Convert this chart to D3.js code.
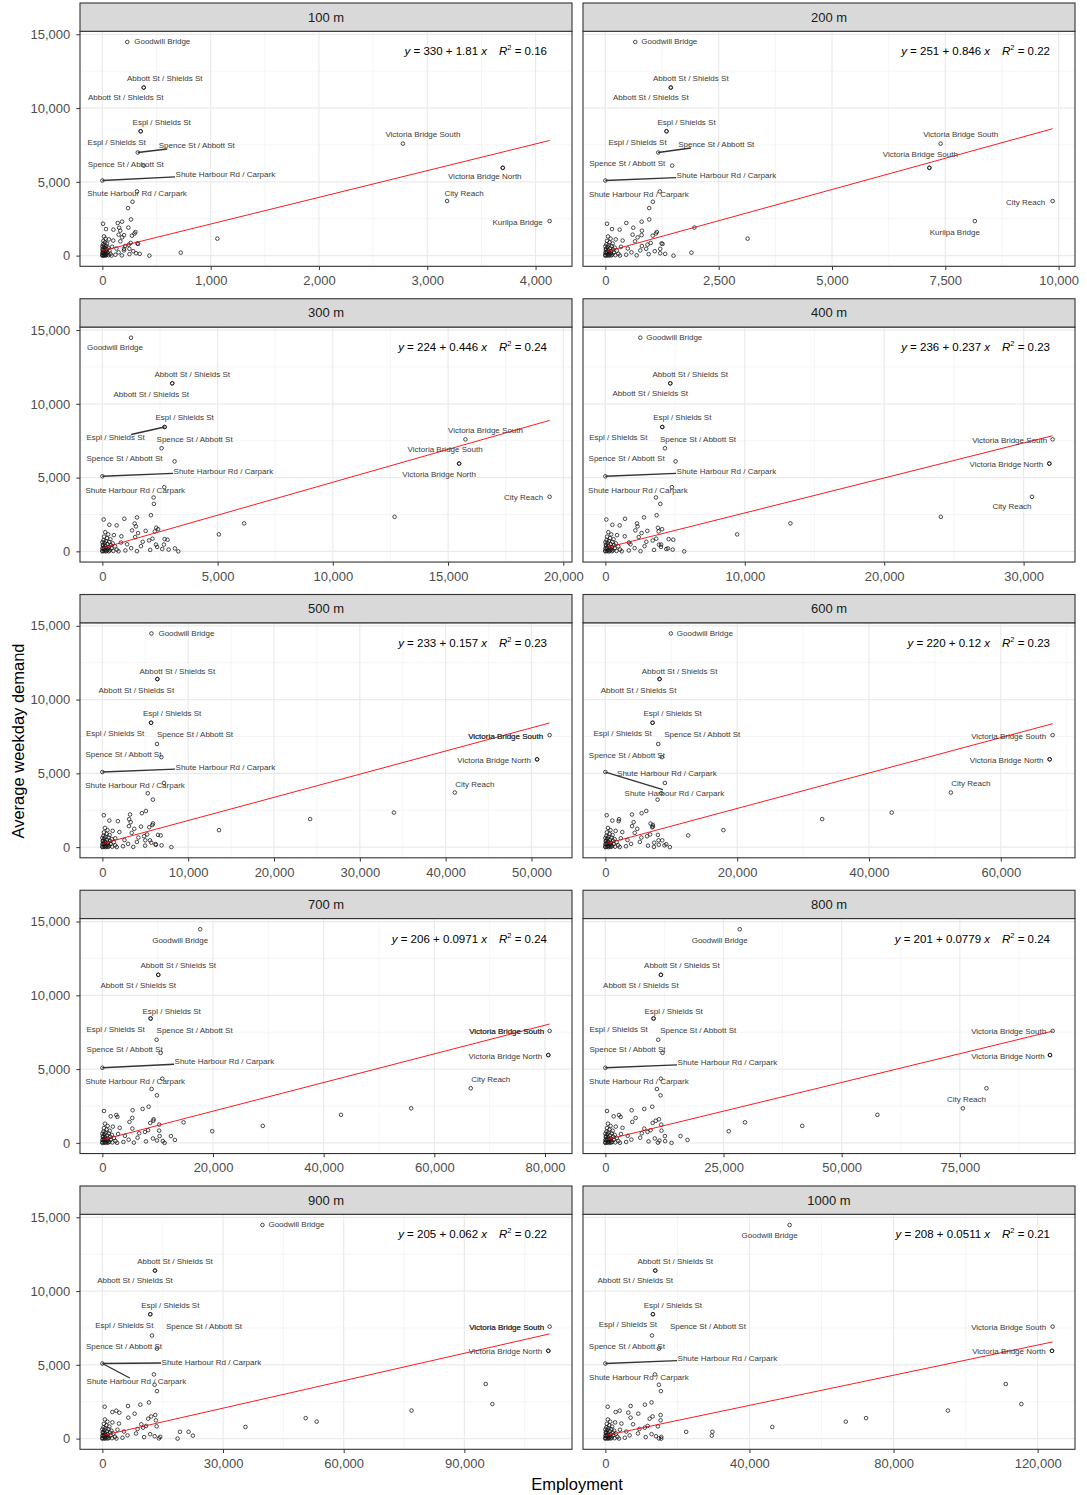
<!DOCTYPE html>
<html>
<head>
<meta charset="utf-8">
<script src="https://cdn.jsdelivr.net/npm/d3@7"></script>
<style>
  body { margin: 0; background: #fff; }
  text { font-family: "Liberation Sans", Arial, sans-serif; }
</style>
</head>
<body>
<svg id="drawing_region"></svg>
<script>
// ---- data ----
const panelNames = ['100 m', '200 m', '300 m', '400 m', '500 m', '600 m', '700 m', '800 m', '900 m', '1000 m'];

const stationNames = ['Goodwill Bridge', 'Abbott St / Shields St', 'Abbott St / Shields St', 'Espl / Shields St',
  'Espl / Shields St', 'Spence St / Abbott St', 'Spence St / Abbott St', 'Shute Harbour Rd / Carpark',
  'Shute Harbour Rd / Carpark', 'Victoria Bridge South', 'Victoria Bridge South', 'Victoria Bridge North',
  'City Reach', 'Kurilpa Bridge', '', '', '', '', '', '', '', '', '', ''];
const stationDemand = [14480, 11390, 11390, 8430, 8430, 6990, 6100, 5090, 4350, 7590, 5950, 5950,
  3700, 2340, 3650, 3220, 1900, 1150, 1390, 790, 460, 0, 200, 460];

// employment within each radius, same order as stationNames
const emp100 = [230, 382, 382, 354, 354, 327, 382, 0, 320, 2775, 3697, 3697, 3183, 4130, 278, 237, 240, 1062, 200, 330, 250, 434, 724, 200];
const emp200 = [660, 1444, 1444, 1349, 1349, 1166, 1474, 0, 1202, 7397, 7148, 7148, 9868, 8152, 1048, 968, 1965, 3138, 800, 1261, 1210, 1503, 1899, 900];
const emp300 = [1242, 3032, 3032, 2700, 2700, 2570, 3133, 0, 2686, 15754, 15480, 15480, 19407, 12678, 2224, 2238, 6151, 5054, 1880, 2830, 2671, 3292, 3148, 2325];
const emp400 = [2506, 4655, 4655, 4082, 4082, 4273, 5037, 0, 4774, 32081, 31843, 31843, 30601, 24061, 3628, 3939, 13272, 9453, 3008, 4869, 3843, 5657, 4488, 4000];
const emp500 = [5719, 6407, 6407, 5676, 5676, 6364, 6880, 0, 7181, 52116, 50654, 50654, 41065, 33970, 5289, 5891, 24209, 13588, 4500, 6794, 5547, 8041, 6192, 5000];
const emp600 = [9941, 8225, 8225, 7165, 7165, 8023, 8578, 0, 9032, 67869, 67415, 67415, 52428, 43446, 8500, 7922, 32900, 17913, 7216, 12565, 8629, 9789, 9234, 8074];
const emp700 = [17684, 10105, 10105, 8722, 8722, 9804, 10526, 0, 10827, 80842, 80601, 80601, 66586, 55819, 8902, 9865, 43128, 28992, 14677, 19850, 12391, 11248, 13113, 10346];
const emp800 = [28425, 11750, 11750, 10202, 10202, 11187, 12102, 0, 11750, 94634, 94071, 94071, 80633, 75637, 10906, 11680, 57554, 41653, 29551, 26103, 15901, 14002, 17379, 12594];
const emp900 = [39798, 13073, 13073, 11915, 11915, 12328, 13569, 0, 12825, 111203, 110872, 110872, 95316, 96971, 12990, 13569, 76866, 53284, 50554, 35578, 21430, 18699, 22505, 19279];
const emp1000 = [51140, 13847, 13847, 13200, 13200, 12923, 14862, 0, 13754, 124157, 123973, 123973, 111141, 115480, 14862, 15416, 95079, 66740, 72371, 46340, 29724, 15508, 29540, 22431];

// the unlabelled stops packed near the origin
const clusterDemand = [2450, 2300, 2210, 2160, 1890, 1800, 1760, 1690, 1600, 1500,
  1420, 1350, 1240, 1100, 970, 860, 830, 740, 600, 480,
  350, 220, 160, 100, 15, 60, 1020, 650, 300, 120,
  1300, 1150, 1000, 900, 820, 760, 700, 640, 580, 540,
  500, 450, 420, 390, 340, 300, 270, 240, 210, 180,
  150, 120, 90, 70, 50, 30, 20, 10, 5, 0,
  0, 40, 200, 380, 620];
const clus100 = [264, 182, 142, 6, 155, 34, 102, 165, 305, 297, 150, 273, 182, 60, 166, 262, 323, 243, 90, 130,
  200, 150, 311, 250, 180, 120, 100, 210, 285, 345,
  15, 30, 9, 24, 42, 6, 18, 36, 12, 54, 27, 3, 45, 15, 66, 33, 9, 21, 48, 6,
  30, 75, 15, 39, 24, 57, 9, 33, 84, 18, 0, 0, 0, 3, 0];
const clus200 = [968, 800, 462, 37, 616, 147, 315, 806, 1136, 1115, 601, 1045, 713, 230, 655, 1000, 1240, 930, 345, 495,
  770, 575, 1210, 955, 690, 460, 380, 805, 1090, 1320,
  58, 115, 35, 92, 161, 23, 69, 138, 46, 207, 104, 12, 173, 58, 253, 127, 35, 81, 184, 23,
  115, 288, 58, 150, 92, 219, 35, 127, 322, 69, 0, 0, 0, 12, 0];
const clus300 = [2108, 1502, 953, 58, 1400, 303, 621, 1458, 2339, 2420, 1290, 2275, 1550, 500, 1425, 2175, 2700, 2025, 809, 1075,
  1675, 1250, 2600, 2075, 1500, 1000, 825, 1750, 2375, 2875,
  125, 250, 75, 200, 350, 50, 150, 300, 100, 450, 225, 25, 375, 125, 550, 275, 75, 175, 400, 50,
  250, 625, 125, 325, 200, 475, 75, 275, 700, 150, 0, 0, 0, 25, 0];
const clus400 = [3676, 2769, 1408, 72, 2268, 501, 1026, 2310, 3771, 4070, 2150, 3820, 2600, 840, 2390, 3650, 4540, 3400, 1695, 1800,
  2810, 2100, 4370, 3490, 2520, 1680, 1390, 2940, 3990, 4830,
  210, 420, 126, 336, 588, 84, 252, 504, 168, 756, 378, 42, 630, 210, 924, 462, 126, 294, 672, 84,
  420, 1050, 210, 546, 336, 798, 126, 462, 1176, 252, 0, 0, 0, 42, 0];
const clus500 = [5074, 4600, 3225, 172, 3120, 817, 1806, 3300, 5900, 5820, 3100, 5460, 3720, 1200, 3420, 5220, 6480, 4860, 1505, 2580,
  4020, 3000, 6240, 4980, 3600, 2400, 1980, 4200, 5700, 6900,
  300, 600, 180, 480, 840, 120, 360, 720, 240, 1080, 540, 60, 900, 300, 1320, 660, 180, 420, 960, 120,
  600, 1500, 300, 780, 480, 1140, 180, 660, 1680, 360, 0, 0, 0, 60, 0];
const clus600 = [6207, 5500, 4037, 202, 2069, 1060, 2018, 4290, 6863, 7216, 4050, 7100, 4840, 1560, 4450, 6790, 7973, 6320, 2340, 3350,
  5230, 3900, 8110, 6470, 7367, 3120, 2570, 5460, 7410, 8970,
  390, 780, 234, 624, 1092, 156, 468, 936, 312, 1404, 702, 78, 1170, 390, 1716, 858, 234, 546, 1248, 156,
  780, 1950, 390, 1014, 624, 1482, 234, 858, 2184, 468, 0, 0, 0, 78, 0];
const clus700 = [8361, 7278, 5474, 301, 2526, 1504, 2707, 5414, 9263, 9210, 4900, 8650, 10286, 1900, 5415, 8260, 10260, 7700, 2850, 4085,
  6365, 4750, 9880, 7885, 5700, 3800, 3135, 6650, 9143, 10925,
  475, 950, 285, 760, 1330, 190, 570, 1140, 380, 1710, 855, 95, 1425, 475, 2090, 1045, 285, 665, 1520, 190,
  950, 2375, 475, 1235, 760, 1805, 285, 1045, 2660, 570, 0, 0, 0, 95, 0];
const clus800 = [9921, 8232, 5558, 352, 2885, 1759, 3237, 6403, 11328, 10670, 5700, 10000, 11820, 2200, 8232, 9570, 11880, 8910, 3300, 4730,
  7370, 5500, 11440, 9130, 11117, 4400, 3630, 7700, 10450, 12650,
  550, 1100, 330, 880, 1540, 220, 660, 1320, 440, 1980, 990, 110, 1650, 550, 2420, 1210, 330, 770, 1760, 220,
  1100, 2750, 550, 1430, 880, 2090, 330, 1210, 3080, 660, 0, 0, 0, 110, 0];
const clus900 = [11584, 9432, 6371, 579, 3475, 2482, 4220, 8026, 13155, 12120, 6450, 11375, 13321, 2500, 9681, 10875, 13500, 10125, 3750, 5375,
  8375, 6250, 13000, 10375, 14066, 5000, 4125, 8750, 11875, 14375,
  625, 1250, 375, 1000, 1750, 250, 750, 1500, 500, 2250, 1125, 125, 1875, 625, 2750, 1375, 375, 875, 2000, 250,
  1250, 3125, 625, 1625, 1000, 2375, 375, 1375, 3500, 750, 0, 0, 0, 125, 0];
const clus1000 = [12831, 10985, 7016, 646, 3969, 2862, 6369, 9139, 15323, 13100, 7000, 12285, 15323, 2700, 7700, 11745, 14580, 10935, 4050, 5800,
  9045, 6750, 14040, 11200, 14862, 5400, 4455, 9450, 12825, 15525,
  675, 1350, 405, 1080, 1890, 270, 810, 1620, 540, 2430, 1215, 135, 2025, 675, 2970, 1485, 405, 945, 2160, 270,
  1350, 3375, 675, 1755, 1080, 2565, 405, 1485, 3780, 810, 0, 0, 0, 135, 0];

// fitted lines, as printed in each panel
const intercepts = [330, 251, 224, 236, 233, 220, 206, 201, 205, 208];
const slopes = [1.81, 0.846, 0.446, 0.237, 0.157, 0.12, 0.0971, 0.0779, 0.062, 0.0511];
const rSquared = [0.16, 0.22, 0.24, 0.23, 0.23, 0.23, 0.24, 0.24, 0.22, 0.21];

const xTickValues = [
  [0, 1000, 2000, 3000, 4000],
  [0, 2500, 5000, 7500, 10000],
  [0, 5000, 10000, 15000, 20000],
  [0, 10000, 20000, 30000],
  [0, 10000, 20000, 30000, 40000, 50000],
  [0, 20000, 40000, 60000],
  [0, 20000, 40000, 60000, 80000],
  [0, 25000, 50000, 75000],
  [0, 30000, 60000, 90000],
  [0, 40000, 80000, 120000]
];
const yTickValues = [0, 5000, 10000, 15000];

// ---- layout ----
const stationEmp = [emp100, emp200, emp300, emp400, emp500, emp600, emp700, emp800, emp900, emp1000];
const clusterEmp = [clus100, clus200, clus300, clus400, clus500, clus600, clus700, clus800, clus900, clus1000];

// repelled label placement: [station, dx, dy (px from point), draw segment]
const labelLayout = [
  [[0,35,0],[1,21,-9],[2,-18,10],[3,21,-9],[4,-24,11],[5,59,-7,1],[6,-18,-1],[7,123,-6,1],[8,0,2],[9,20,-9],[11,-18,9],[12,17,-8],[13,-32,1]],
  [[0,34,0],[1,20,-9],[2,-20,10],[3,20,-9],[4,-29,11],[5,58,-8,1],[6,-45,-2],[7,121,-5,1],[8,-21,3],[9,20,-9],[10,-9,-13],[12,-27,1],[13,-20,11]],
  [[0,-16,10],[1,20,-9],[2,-21,11],[3,20,-9],[4,-49,11,1],[5,33,-9],[6,-50,-3],[7,121,-5,1],[8,-29,3],[9,20,-9],[10,-14,-14],[11,-20,11],[12,-26,1]],
  [[0,34,0],[1,20,-9],[2,-20,10],[3,20,-9],[4,-44,11],[5,33,-9],[6,-49,-3],[7,121,-5,1],[8,-34,3],[9,-43,1],[11,-43,1],[12,-20,10]],
  [[0,35,0],[1,20,-8],[2,-21,11],[3,21,-9],[4,-36,11],[5,38,-9],[6,-38,-3],[7,123,-5,1],[8,-29,3],[9,-44,1],[9,-44,1],[11,-43,1],[12,20,-8]],
  [[0,34,0],[1,20,-8],[2,-21,11],[3,20,-9],[4,-30,11],[5,44,-9],[6,-35,-2],[7,69,21,1],[8,2,-9],[9,-44,1],[11,-43,1],[12,20,-9]],
  [[0,-20,11],[1,20,-9],[2,-20,11],[3,21,-7],[4,-35,11],[5,38,-9],[6,-36,-3],[7,122,-6,1],[8,-27,3],[9,-43,1],[9,-43,1],[11,-43,1],[12,20,-9]],
  [[0,-20,11],[1,21,-9],[2,-20,11],[3,20,-7],[4,-35,11],[5,40,-9],[6,-35,-3],[7,122,-5,1],[8,-22,3],[9,-44,1],[11,-42,1],[12,-20,11]],
  [[0,34,0],[1,20,-9],[2,-20,10],[3,20,-9],[4,-26,11],[5,52,-9],[6,-33,-2],[7,109,-1,1],[7,34,18,1],[9,-43,1],[9,-43,1],[11,-43,1]],
  [[0,-20,11],[1,20,-9],[2,-20,10],[3,20,-9],[4,-25,10],[5,56,-9],[6,-32,-2],[7,122,-5,1],[8,-16,3],[9,-44,1],[11,-43,1]]
];

const width = 1087, height = 1495;
const colLeft = [80, 583], panelW = 492;
const stripH = 28.3, plotH = 235, rowStep = 295.75, firstTop = 3;

const svg = d3.select('#drawing_region')
  .attr('width', width)
  .attr('height', height);

// ggplot style 5% expansion
function expand(ext) {
  const pad = (ext[1] - ext[0]) * 0.05;
  return [ext[0] - pad, ext[1] + pad];
}

const yDomain = expand(d3.extent(stationDemand.concat(clusterDemand)));
const fmt = d3.format(',');

panelNames.forEach((name, i) => {
  const col = i % 2, row = Math.floor(i / 2);
  const x0 = colLeft[col], x1 = x0 + panelW;
  const top = firstTop + row * rowStep;
  const pTop = top + stripH, pBot = pTop + plotH;

  const emp = stationEmp[i], cemp = clusterEmp[i];
  const pts = stationDemand.map((d, k) => ({ x: emp[k], y: d }))
    .concat(clusterDemand.map((d, k) => ({ x: cemp[k], y: d })));

  const xs = d3.scaleLinear().domain(expand(d3.extent(pts, d => d.x))).range([x0, x1]);
  const ys = d3.scaleLinear().domain(yDomain).range([pBot, pTop]);

  const g = svg.append('g');

  // grid
  const xt = xTickValues[i];
  const step = xt[1] - xt[0];
  const xMinor = [xt[0] - step / 2].concat(xt.map(v => v + step / 2))
    .filter(v => v > xs.domain()[0] && v < xs.domain()[1]);
  const yMinor = [2500, 7500, 12500];

  g.selectAll('.xminor').data(xMinor).join('line')
    .attr('x1', d => xs(d)).attr('x2', d => xs(d)).attr('y1', pTop).attr('y2', pBot)
    .attr('stroke', '#f0f0f0').attr('stroke-width', 0.7);
  g.selectAll('.yminor').data(yMinor).join('line')
    .attr('y1', d => ys(d)).attr('y2', d => ys(d)).attr('x1', x0).attr('x2', x1)
    .attr('stroke', '#f0f0f0').attr('stroke-width', 0.7);
  g.selectAll('.xmajor').data(xt).join('line')
    .attr('x1', d => xs(d)).attr('x2', d => xs(d)).attr('y1', pTop).attr('y2', pBot)
    .attr('stroke', '#ebebeb').attr('stroke-width', 1.2);
  g.selectAll('.ymajor').data(yTickValues).join('line')
    .attr('y1', d => ys(d)).attr('y2', d => ys(d)).attr('x1', x0).attr('x2', x1)
    .attr('stroke', '#ebebeb').attr('stroke-width', 1.2);

  // points
  g.append('g').selectAll('circle').data(pts).join('circle')
    .attr('cx', d => xs(d.x)).attr('cy', d => ys(d.y))
    .attr('r', 1.8)
    .attr('fill', 'none').attr('stroke', '#111').attr('stroke-width', 0.75);

  // fitted line over the data range
  const xr = d3.extent(pts, d => d.x);
  const line = d3.line().x(d => xs(d)).y(d => ys(intercepts[i] + slopes[i] * d));
  g.append('path').attr('d', line(xr))
    .attr('fill', 'none').attr('stroke', '#ff0000').attr('stroke-width', 0.9);

  // labels with leader segments
  const segG = g.append('g');
  const labG = g.append('g');
  labelLayout[i].forEach(([k, dx, dy, seg]) => {
    const px = xs(emp[k]), py = ys(stationDemand[k]);
    let lx = px + dx;
    const ly = py + dy;
    const t = labG.append('text')
      .attr('x', lx).attr('y', ly)
      .attr('text-anchor', 'middle').attr('dominant-baseline', 'central')
      .attr('font-size', 8).attr('fill', '#3a3a3a')
      .text(stationNames[k]);
    const bb = t.node().getBBox();
    let shift = 0;
    if (bb.x < x0 + 4) shift = x0 + 4 - bb.x;
    if (bb.x + bb.width > x1 - 4) shift = x1 - 4 - bb.x - bb.width;
    if (shift) { lx += shift; t.attr('x', lx); }
    if (seg) {
      const hw = bb.width / 2, hh = bb.height / 2 - 1;
      const vx = lx - px, vy = ly - py;
      const tx = Math.abs(vx) > 0 ? 1 - hw / Math.abs(vx) : 0;
      const ty = Math.abs(vy) > 0 ? 1 - hh / Math.abs(vy) : 0;
      const tt = Math.max(0, tx, ty);
      segG.append('line')
        .attr('x1', px).attr('y1', py)
        .attr('x2', px + vx * tt).attr('y2', py + vy * tt)
        .attr('stroke', '#333').attr('stroke-width', 1.3);
    }
  });

  // equation
  const eq = g.append('text')
    .attr('x', x1 - 25).attr('y', pTop + 24)
    .attr('text-anchor', 'end').attr('font-size', 11.5).attr('fill', '#000')
    .style('white-space', 'pre');
  eq.append('tspan').attr('font-style', 'italic').text('y');
  eq.append('tspan').text(` = ${intercepts[i]} + ${slopes[i]} `);
  eq.append('tspan').attr('font-style', 'italic').text('x');
  eq.append('tspan').attr('font-style', 'italic').attr('dx', 12).text('R');
  eq.append('tspan').attr('font-size', 7.5).attr('dy', -5).text('2');
  eq.append('tspan').attr('dy', 5).text(` = ${rSquared[i].toFixed(2)}`);

  // panel border
  g.append('rect').attr('x', x0).attr('y', pTop).attr('width', panelW).attr('height', plotH)
    .attr('fill', 'none').attr('stroke', '#333').attr('stroke-width', 1.1);

  // strip
  g.append('rect').attr('x', x0).attr('y', top).attr('width', panelW).attr('height', stripH)
    .attr('fill', '#d9d9d9').attr('stroke', '#333').attr('stroke-width', 1.1);
  g.append('text').attr('x', (x0 + x1) / 2).attr('y', top + stripH / 2)
    .attr('text-anchor', 'middle').attr('dominant-baseline', 'central')
    .attr('font-size', 13).attr('fill', '#1a1a1a').text(name);

  // axes
  const xaxis = d3.axisBottom(xs).tickValues(xt).tickFormat(fmt).tickSize(3.7).tickSizeOuter(0).tickPadding(6);
  const xg = g.append('g').attr('transform', `translate(0, ${pBot})`).call(xaxis);
  xg.select('.domain').remove();
  xg.selectAll('line').attr('stroke', '#333');
  xg.selectAll('text').attr('font-size', 13).attr('fill', '#4d4d4d').attr('font-family', '"Liberation Sans", Arial, sans-serif');

  if (col === 0) {
    const yaxis = d3.axisLeft(ys).tickValues(yTickValues).tickFormat(fmt).tickSize(3.7).tickSizeOuter(0).tickPadding(6);
    const yg = g.append('g').attr('transform', `translate(${x0}, 0)`).call(yaxis);
    yg.select('.domain').remove();
    yg.selectAll('line').attr('stroke', '#333');
    yg.selectAll('text').attr('font-size', 13).attr('fill', '#4d4d4d').attr('font-family', '"Liberation Sans", Arial, sans-serif');
  }
});

// axis titles
svg.append('text')
  .attr('transform', 'translate(18, 741) rotate(-90)')
  .attr('text-anchor', 'middle').attr('dominant-baseline', 'central')
  .attr('font-size', 16.5).attr('fill', '#000')
  .text('Average weekday demand');
svg.append('text')
  .attr('x', 577).attr('y', 1484)
  .attr('text-anchor', 'middle').attr('dominant-baseline', 'central')
  .attr('font-size', 16.5).attr('fill', '#000')
  .text('Employment');
</script>
</body>
</html>
